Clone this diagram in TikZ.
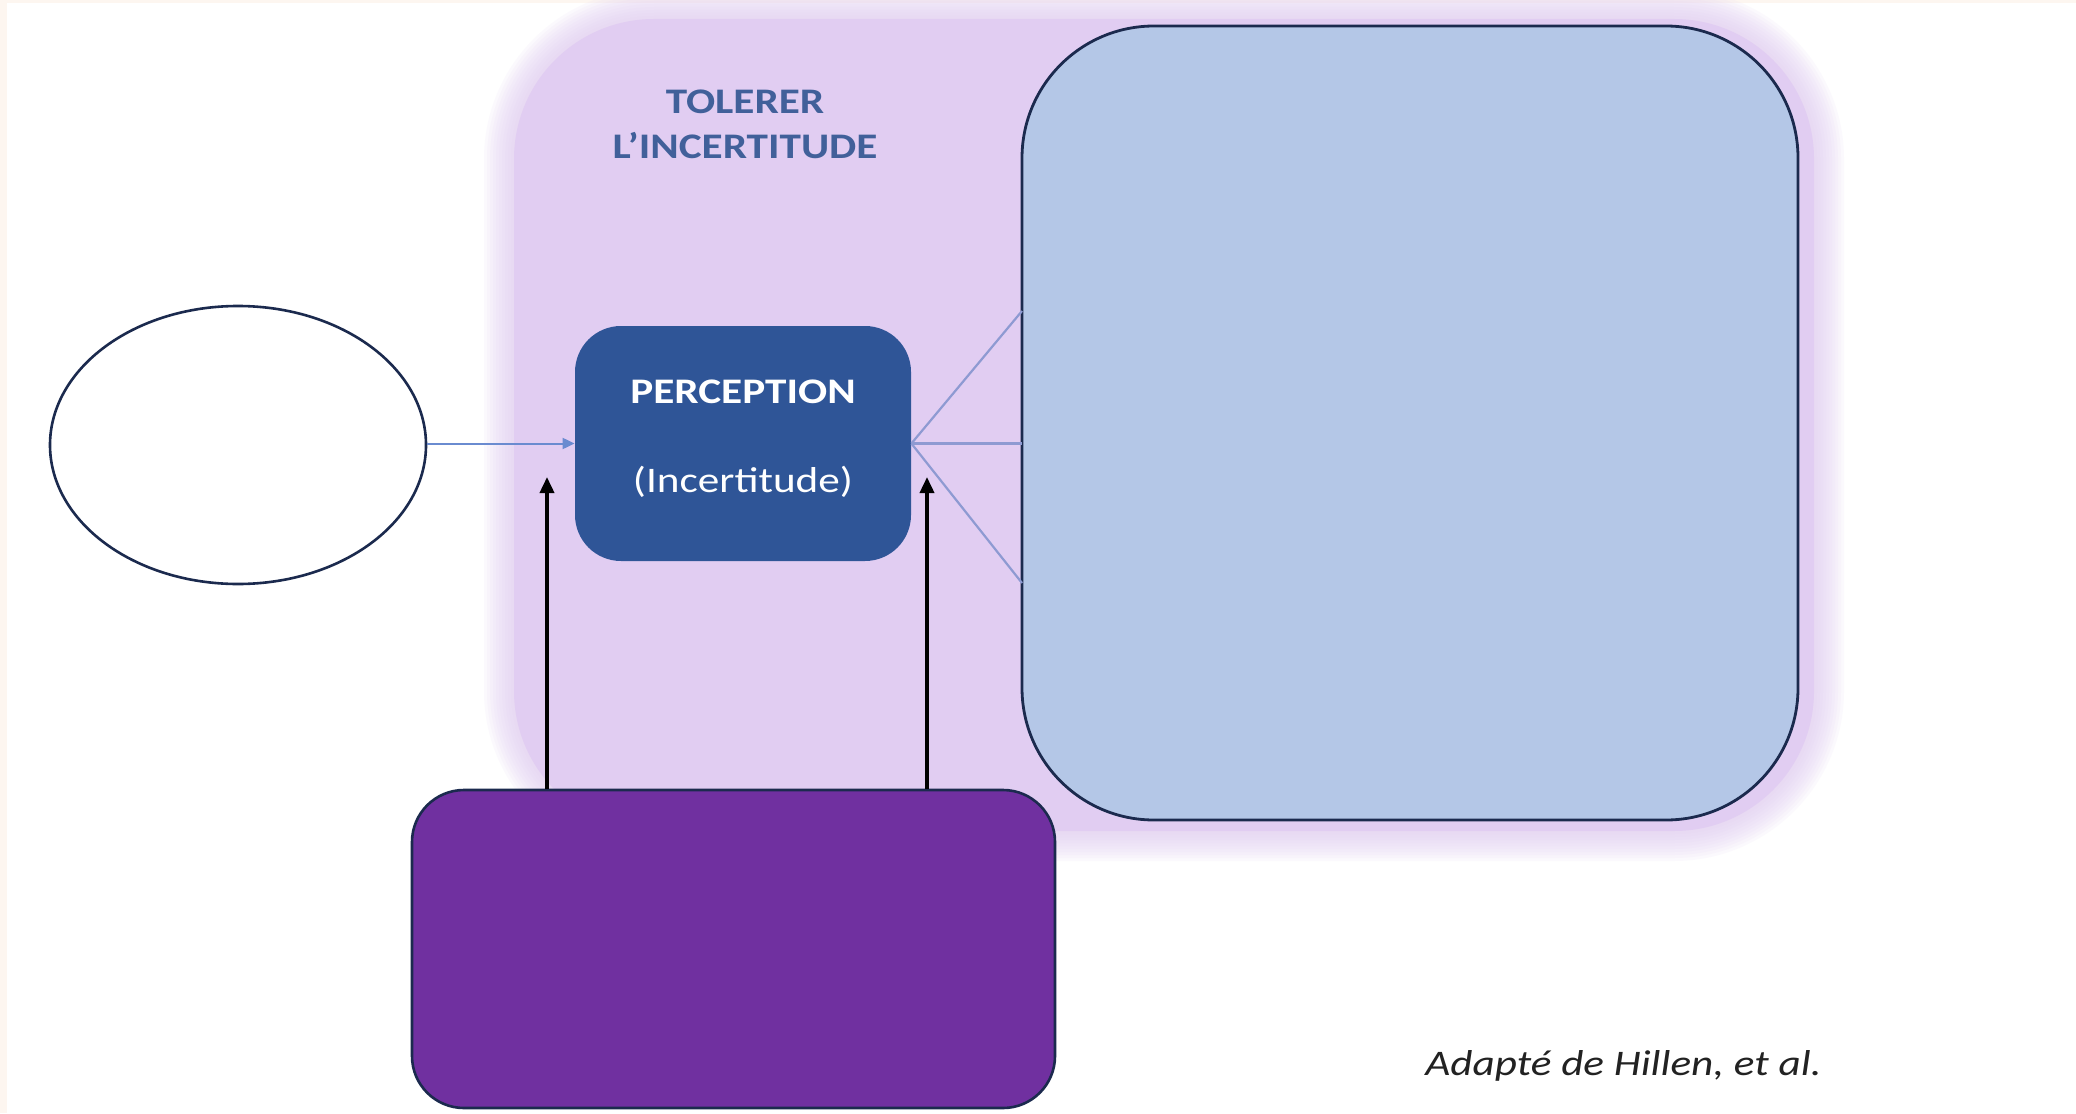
\documentclass[tikz,border=0pt]{standalone}
\usepackage{fontspec}
\setmainfont{Carlito}
\usetikzlibrary{arrows.meta,calc,shapes.geometric}
\definecolor{lav}{HTML}{E1CDF2}
\definecolor{lblue}{HTML}{B4C7E7}
\definecolor{navy}{HTML}{1B2A4E}
\definecolor{percblue}{HTML}{2F5597}
\definecolor{purp}{HTML}{7030A0}
\definecolor{titleblue}{HTML}{41609A}
\definecolor{arrblue}{HTML}{6A8BD0}
\definecolor{linkblue}{HTML}{8E9AD2}
\definecolor{edgetint}{HTML}{FDF6F0}
\definecolor{credit}{HTML}{222222}
\newcommand{\wide}[1]{\scalebox{1.2}[1]{#1}}
\tikzset{
  boxbase/.style={draw=navy, line width=1.3pt, inner sep=0pt},
  link/.style={linkblue, line width=1.1pt},
  feedarrow/.style={black, line width=1.8pt, -{Triangle[length=8pt,width=7pt]}},
  inarrow/.style={arrblue, line width=1pt, -{Triangle[length=6pt,width=5.5pt]}},
  whitetext/.style={text=white, inner sep=0pt, font=\fontsize{18}{22}\selectfont},
}
\begin{document}
\begin{tikzpicture}[x=0.5pt,y=-0.5pt]
\useasboundingbox (0,0) rectangle (2076,1113);
\fill[white] (0,0) rectangle (2076,1113);
\fill[edgetint] (0,0) rectangle (2076,3);
\fill[edgetint] (0,0) rectangle (7,1113);

% lavender glow zone
\foreach \d in {30,27,...,3}{
  \node[fill=lav, opacity=0.11, inner sep=0pt, rounded corners=70pt+0.5pt*\d,
        minimum width=650pt+\d pt, minimum height=406pt+\d pt] at (1164,425) {};
}
\node[fill=lav, inner sep=0pt, rounded corners=70pt,
      minimum width=650pt, minimum height=406pt] (zone) at (1164,425) {};

% title
\node[text=titleblue, font=\bfseries\fontsize{18}{22.5}\selectfont, align=center, inner sep=0pt]
  (title) at (745,124) {\wide{TOLERER}\\\wide{L’INCERTITUDE}};

% main shapes
\node[boxbase, ellipse, fill=white, minimum width=188pt, minimum height=139pt] (stim) at (238,445) {};
\node[fill=percblue, inner sep=0pt, rounded corners=23pt,
      minimum width=168pt, minimum height=117.5pt] (perc) at (743,443.5) {};
\node[whitetext, font=\bfseries\fontsize{18}{22}\selectfont] (perctitle) at ($(perc.center)+(0,-52)$) {\wide{PERCEPTION}};
\node[whitetext] (percsub) at ($(perc.center)+(0,38)$) {\wide{(Incertitude)}};
\node[boxbase, fill=lblue, line width=1.4pt, rounded corners=66pt,
      minimum width=388pt, minimum height=397pt] (resp) at (1410,423) {};
\node[boxbase, fill=purp, rounded corners=26pt,
      minimum width=321.5pt, minimum height=159pt] (factors) at (733.5,949) {};

% connectors
\draw[inarrow] (stim.east |- perc.west) -- (perc.west);
\coordinate (r1) at (1022,311);
\coordinate (r2) at (1022,443.5);
\coordinate (r3) at (1022,583);
\draw[link] (perc.east) -- (r1);
\draw[link] (perc.east) -- (r2);
\draw[link] (perc.east) -- (r3);
\coordinate (f1) at (547,477);
\coordinate (f2) at (927,477);
\draw[feedarrow] (f1 |- factors.north) -- (f1);
\draw[feedarrow] (f2 |- factors.north) -- (f2);

% credit
\node[anchor=east, text=credit, inner sep=0pt, font=\itshape\fontsize{18}{22}\selectfont]
  (credit) at (1822,1066) {\wide{Adapté de Hillen, et al.}};
\end{tikzpicture}
\end{document}
